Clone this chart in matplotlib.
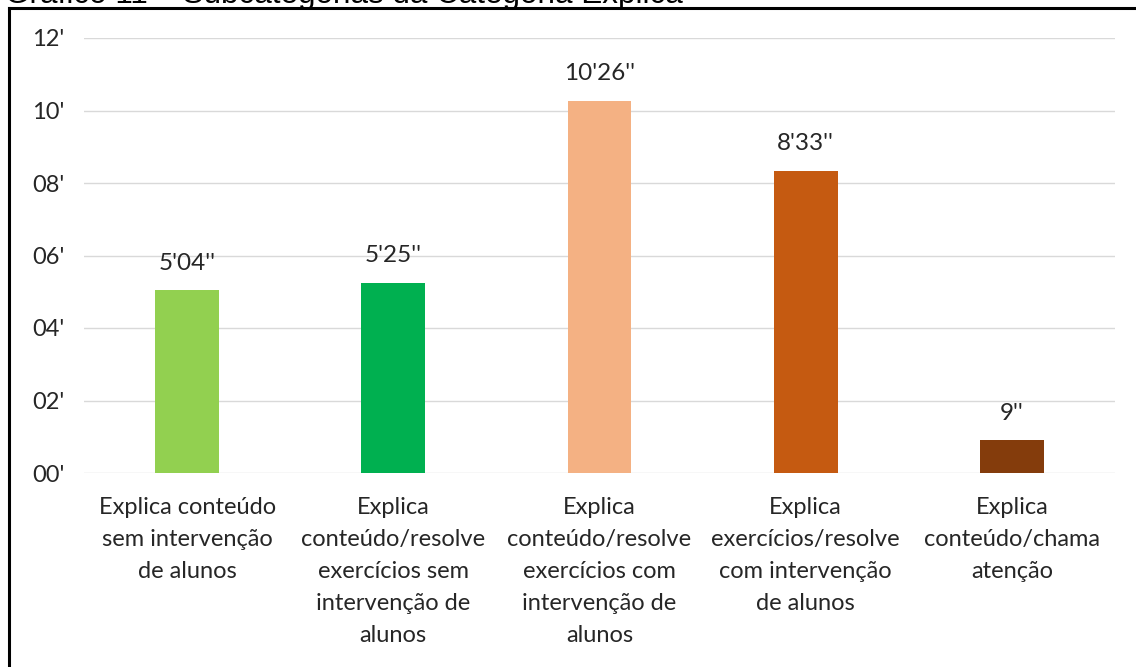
import matplotlib.pyplot as plt
from matplotlib.lines import Line2D

# Subcategorias da categoria "Explica" - tempo em minutos
categorias = [
    "Explica conteúdo\nsem intervenção\nde alunos",
    "Explica\nconteúdo/resolve\nexercícios sem\nintervenção de\nalunos",
    "Explica\nconteúdo/resolve\nexercícios com\nintervenção de\nalunos",
    "Explica\nexercícios/resolve\ncom intervenção\nde alunos",
    "Explica\nconteúdo/chama\natenção",
]
tempos = [5.04, 5.25, 10.26, 8.33, 0.90]
rotulos = ["5'04''", "5'25''", "10'26''", "8'33''", "9''"]
cores = ["#92D050", "#00B050", "#F4B183", "#C55A11", "#843C0C"]
yticks = [0, 2, 4, 6, 8, 10, 12]
ytick_labels = ["00'", "02'", "04'", "06'", "08'", "10'", "12'"]

W, H = 1136, 667
fig = plt.figure(figsize=(W / 100, H / 100), dpi=100)
txt = "#262626"
fonte = "Lato"

ax = fig.add_axes([84 / W, 194 / H, 1031 / W, 435 / H])
x = range(len(tempos))
ax.bar(x, tempos, width=0.31, color=cores, zorder=3)
for i, (v, r) in enumerate(zip(tempos, rotulos)):
    ax.annotate(r, (i, v), xytext=(0, 12), textcoords="offset points",
                ha="center", va="bottom", fontsize=17.5, color=txt, family=fonte)

ax.set_xlim(-0.5, len(tempos) - 0.5)
ax.set_ylim(0, 12)
ax.set_yticks(yticks)
ax.set_yticklabels(ytick_labels, fontsize=17, color=txt, family=fonte)
ax.set_xticks(list(x))
ax.set_xticklabels(categorias, fontsize=17, color=txt, family=fonte, linespacing=1.66)
ax.tick_params(axis="both", length=0)
ax.tick_params(axis="y", pad=14)
ax.tick_params(axis="x", pad=17)
ax.grid(axis="y", color="#D9D9D9", linewidth=1, zorder=0)
for s in ax.spines.values():
    s.set_visible(False)

# moldura do quadro (cortada pela imagem)
fig.add_artist(Line2D([9 / W, 9 / W], [0, 1 - 8 / H], color="black", linewidth=2.2))
fig.add_artist(Line2D([9 / W, 1], [1 - 8 / H, 1 - 8 / H], color="black", linewidth=2.2))

# titulo cortado no topo da imagem
fig.text(5 / W, 1 - 2.5 / H, "Gráfico 11 – Subcategorias da Categoria Explica",
         fontsize=22.6, family="Liberation Sans", color="black", va="baseline")

fig.savefig("out.png", dpi=100)
